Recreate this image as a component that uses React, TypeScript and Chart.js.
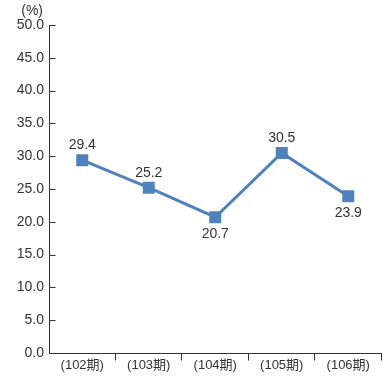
import React, { useEffect, useRef } from 'react';
import { Chart, registerables } from 'chart.js';

Chart.register(...registerables);

const categories = ['(102期)', '(103期)', '(104期)', '(105期)', '(106期)'];
const values = [29.4, 25.2, 20.7, 30.5, 23.9];
const valueLabels = ['29.4', '25.2', '20.7', '30.5', '23.9'];
const yMin = 0;
const yMax = 50;
const yStep = 5;
const unitLabel = '(%)';

const FONT = "'Liberation Sans', 'Noto Sans CJK JP', sans-serif";
const TEXT = '#333333';
const LINE = '#4f81bd';

const axesPlugin = {
  id: 'customAxes',
  beforeDatasetsDraw(chart: any) {
    const { ctx, chartArea: a, scales } = chart;
    const y = scales.y;
    ctx.save();
    ctx.strokeStyle = TEXT;
    ctx.lineWidth = 1;
    ctx.beginPath();
    const lx = Math.round(a.left) + 0.5;
    const by = Math.round(a.bottom) + 0.5;
    ctx.moveTo(lx, Math.round(a.top));
    ctx.lineTo(lx, by);
    ctx.lineTo(Math.round(a.right), by);
    y.ticks.forEach((t: any) => {
      const py = Math.round(y.getPixelForValue(t.value)) + 0.5;
      ctx.moveTo(lx, py);
      ctx.lineTo(lx + 6, py);
    });
    const n = categories.length;
    const w = (a.right - a.left) / n;
    for (let i = 1; i <= n; i++) {
      const px = Math.round(a.left + i * w) - 0.5;
      ctx.moveTo(px, by);
      ctx.lineTo(px, by + 7);
    }
    ctx.stroke();
    ctx.fillStyle = TEXT;
    ctx.font = `14px ${FONT}`;
    ctx.textAlign = 'right';
    ctx.textBaseline = 'middle';
    ctx.fillText(unitLabel, a.left - 6, 11);
    ctx.restore();
  },
  afterDatasetsDraw(chart: any) {
    const { ctx } = chart;
    const meta = chart.getDatasetMeta(0);
    ctx.save();
    ctx.fillStyle = TEXT;
    ctx.font = `14px ${FONT}`;
    ctx.textAlign = 'center';
    ctx.textBaseline = 'middle';
    meta.data.forEach((pt: any, i: number) => {
      const v = values[i];
      const prev = i > 0 ? values[i - 1] : undefined;
      const next = i < values.length - 1 ? values[i + 1] : undefined;
      const below =
        prev !== undefined && v < prev && (next === undefined || next > v);
      const yy = below ? pt.y + 17 : pt.y - 15;
      ctx.fillText(valueLabels[i], pt.x, yy);
    });
    ctx.restore();
  },
};

export default function App() {
  const ref = useRef<HTMLCanvasElement | null>(null);
  useEffect(() => {
    if (!ref.current) return;
    const chart = new Chart(ref.current, {
      type: 'line',
      data: {
        labels: categories,
        datasets: [
          {
            data: values,
            borderColor: LINE,
            backgroundColor: LINE,
            borderWidth: 3,
            pointStyle: 'rect',
            pointRadius: 8.5,
            pointHoverRadius: 8.5,
            pointBackgroundColor: LINE,
            pointBorderWidth: 0,
            tension: 0,
            fill: false,
          },
        ],
      },
      options: {
        animation: false,
        responsive: false,
        devicePixelRatio: 1,
        layout: { autoPadding: false, padding: { top: 25, right: 1.5, left: 0, bottom: 0 } },
        plugins: { legend: { display: false }, tooltip: { enabled: false } },
        scales: {
          y: {
            min: yMin,
            max: yMax,
            ticks: {
              stepSize: yStep,
              callback: (v: any) => Number(v).toFixed(1),
              color: TEXT,
              font: { size: 14, family: FONT },
              padding: 5,
            },
            grid: { display: false, drawTicks: false },
            border: { display: false },
            afterFit: (s: any) => {
              s.width = 49;
              s.paddingTop = 0;
              s.paddingBottom = 0;
            },
          },
          x: {
            offset: true,
            ticks: {
              color: TEXT,
              font: { size: 13, family: FONT },
              padding: 5,
              maxRotation: 0,
            },
            grid: { display: false, drawTicks: false },
            border: { display: false },
            afterFit: (s: any) => {
              s.height = 26;
              s.paddingLeft = 0;
              s.paddingRight = 0;
            },
          },
        },
      },
      plugins: [axesPlugin],
    });
    return () => chart.destroy();
  }, []);
  return (
    <div style={{ position: 'absolute', left: 0, top: 0, width: 383, height: 379, background: '#fff' }}>
      <canvas ref={ref} width={383} height={379} style={{ display: 'block' }} />
    </div>
  );
}
